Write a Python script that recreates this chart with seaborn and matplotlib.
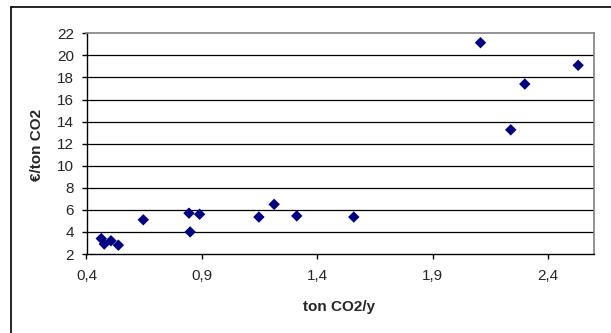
import matplotlib
matplotlib.use("Agg")
import matplotlib.pyplot as plt
import seaborn as sns
import pandas as pd
from matplotlib.ticker import FuncFormatter, FixedLocator
from matplotlib.lines import Line2D

x_vals = [0.464, 0.477, 0.506, 0.538, 0.646, 0.844, 0.849, 0.890, 1.147, 1.213, 1.311, 1.558, 2.107, 2.238, 2.299, 2.530]
y_vals = [3.4, 2.9, 3.2, 2.8, 5.1, 5.7, 4.0, 5.6, 5.35, 6.5, 5.45, 5.35, 21.15, 13.25, 17.4, 19.1]
x_ticks = [0.4, 0.9, 1.4, 1.9, 2.4]
y_ticks = [2, 4, 6, 8, 10, 12, 14, 16, 18, 20, 22]
x_label = "ton CO2/y"
y_label = "€/ton CO2"

sns.set_style("white")
plt.rcParams['font.family'] = ['Liberation Sans', 'DejaVu Sans']

df = pd.DataFrame({"x": x_vals, "y": y_vals})

fig = plt.figure(figsize=(6.11, 3.33), dpi=100)
ax = fig.add_axes([86.5/611, 1-254/333, (594.3-86.5)/611, (254-33.3)/333])

ax.set_xlim(0.4, 2.6)
ax.set_ylim(2, 22)
ax.yaxis.set_major_locator(FixedLocator(y_ticks))
ax.xaxis.set_major_locator(FixedLocator(x_ticks))
ax.xaxis.set_major_formatter(FuncFormatter(lambda v, p: f"{v:.1f}".replace(".", ",")))
ax.yaxis.set_major_formatter(FuncFormatter(lambda v, p: f"{int(round(v))}"))

for yt in y_ticks[1:-1]:
    ax.axhline(yt, color="black", lw=0.9, zorder=1)

sns.scatterplot(data=df, x="x", y="y", marker="D", s=34, color="#000080",
                edgecolor="none", linewidth=0, ax=ax, zorder=3)

for side in ["left", "bottom"]:
    ax.spines[side].set_color("black")
    ax.spines[side].set_linewidth(1)
for side in ["top", "right"]:
    ax.spines[side].set_color("#808080")
    ax.spines[side].set_linewidth(1.2)

ax.tick_params(axis="both", direction="out", length=3.6, width=1, color="black",
               labelsize=11, left=True, bottom=True)
ax.tick_params(axis="x", pad=7.5)
ax.tick_params(axis="y", pad=5.5)
ax.set_xlabel(x_label, fontsize=11, fontweight="bold")
ax.set_ylabel(y_label, fontsize=11, fontweight="bold")
ax.xaxis.set_label_coords((339-86.5)/(594.3-86.5), -(307-254)/(254-33.3))
ax.yaxis.set_label_coords(-(86.5-37.4)/(594.3-86.5), (254-145)/(254-33.3))
ax.xaxis.label.set_va("center")
ax.yaxis.label.set_va("center")

fl = 10.5/611
ft = 1 - 7.3/333
fig.add_artist(Line2D([fl, fl], [0, ft], transform=fig.transFigure, color="black", lw=1.2))
fig.add_artist(Line2D([fl, 1.0], [ft, ft], transform=fig.transFigure, color="black", lw=1.2))

fig.savefig("out.png", dpi=100)
